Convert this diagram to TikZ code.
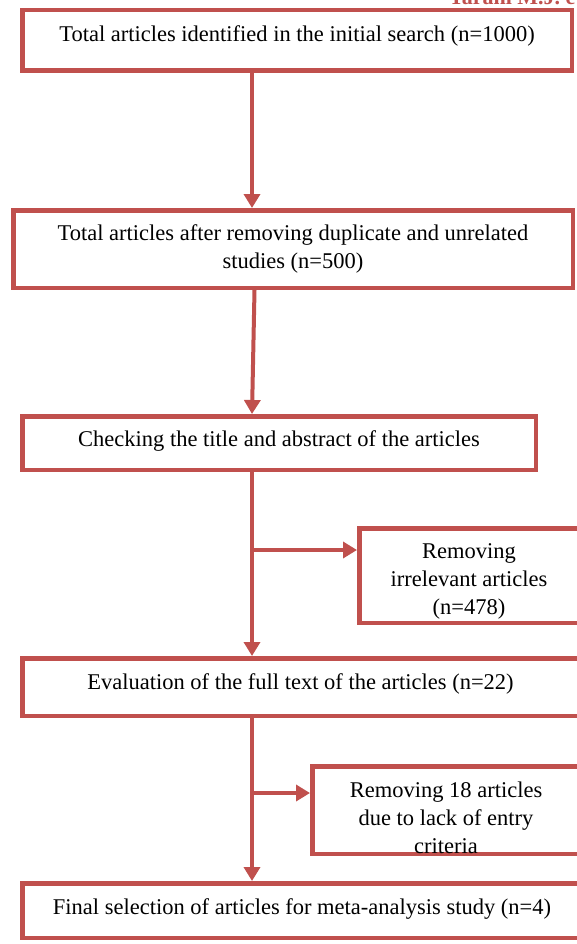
\documentclass[tikz,border=0pt]{standalone}
\usepackage{fontspec}
\setmainfont{Liberation Serif}
\usetikzlibrary{arrows.meta,calc}
\definecolor{boxred}{HTML}{C0504D}
\begin{document}
\begin{tikzpicture}[x=1pt,y=-1pt,
  box/.style={draw=boxred,line width=4.5pt,inner sep=0pt,rectangle,fill=none},
  txt/.style={anchor=base,align=center,inner sep=0pt,font=\fontsize{22.5}{28}\selectfont},
  conn/.style={draw=boxred,line width=4pt,-{Triangle[width=16pt,length=14pt]}}]
\useasboundingbox (0,0) rectangle (577,944);
\fill[white] (0,0) rectangle (577,944);
% cut header text
\node[anchor=base west,inner sep=0pt,text=boxred,font=\fontsize{22}{24}\selectfont\bfseries] (hdr) at (449,4.5) {Tarahi M.J. et al.};
% boxes
\node[box,minimum width=549.5pt,minimum height=60.5pt] (b1) at (297,40.5) {};
\node[box,minimum width=559.5pt,minimum height=77.5pt] (b2) at (293,249) {};
\node[box,minimum width=513.5pt,minimum height=53.5pt] (b3) at (279,443) {};
\node[box,minimum width=219.5pt,minimum height=94.5pt] (b4) at (469,575.5) {};
\node[box,minimum width=556.5pt,minimum height=57.5pt] (b5) at (300.5,687) {};
\node[box,minimum width=267.5pt,minimum height=87.5pt] (b6) at (446,810) {};
\node[box,minimum width=559.5pt,minimum height=54.5pt] (b7) at (302,910.5) {};
% texts (base anchor = baseline of last line)
\node[txt] (t1) at (297,42) {Total articles identified in the initial search (n=1000)};
\node[txt] (t2) at (293,268) {Total articles after removing duplicate and unrelated\\studies (n=500)};
\node[txt] (t3) at (279,446) {Checking the title and abstract of the articles};
\node[txt] (t4) at (469,614) {Removing\\irrelevant articles\\(n=478)};
\node[txt] (t5) at (300.5,689) {Evaluation of the full text of the articles (n=22)};
\node[txt] (t6) at (446,853) {Removing 18 articles\\due to lack of entry\\criteria};
\node[txt] (t7) at (302,914) {Final selection of articles for meta-analysis study (n=4)};
% connectors
\coordinate (sp) at (252,0);
\coordinate (j1) at (252,550);
\coordinate (j2) at (252,793);
\draw[conn] (b1.south -| sp) -- (b2.north -| sp);
\draw[conn] ($(b2.south -| sp)+(2.5,0)$) -- (b3.north -| sp);
\draw[conn] (b3.south -| sp) -- (b5.north -| sp);
\draw[conn] (j1) -- (j1 -| b4.west);
\draw[conn] (b5.south -| sp) -- (b7.north -| sp);
\draw[conn] (j2) -- (j2 -| b6.west);
\end{tikzpicture}
\end{document}
